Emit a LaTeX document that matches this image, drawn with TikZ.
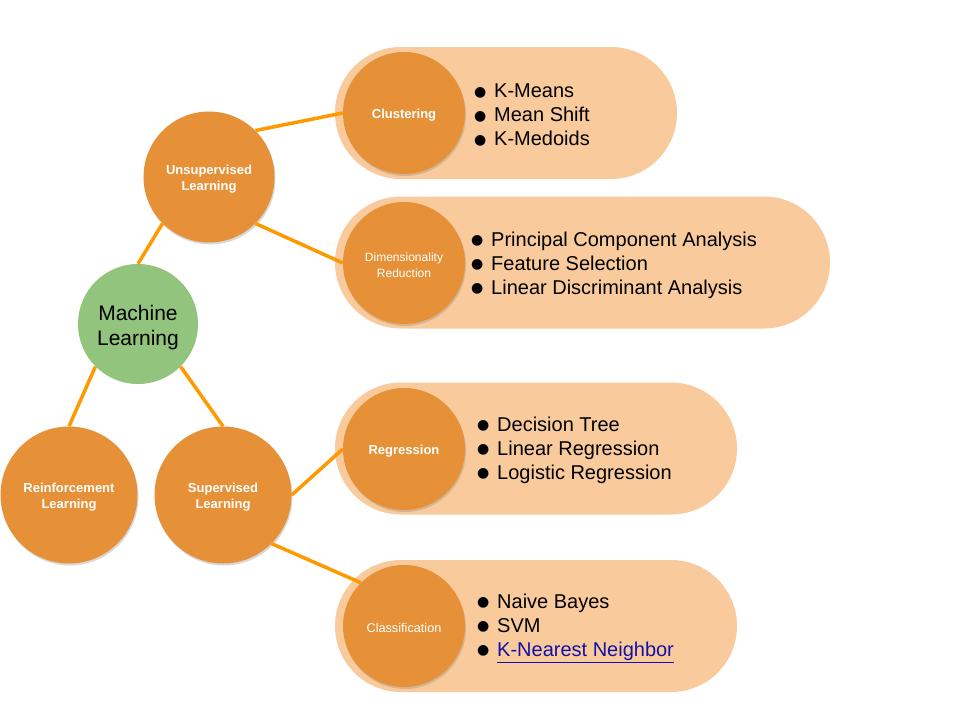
\documentclass[tikz,border=0pt]{standalone}
\usepackage{fontspec}
\setmainfont{Liberation Sans}
\newfontfamily\bulletfont{DejaVu Sans}
\usepackage{xcolor}
\definecolor{mlgreen}{RGB}{147,196,125}
\definecolor{topicorange}{RGB}{230,145,56}
\definecolor{pillorange}{RGB}{249,203,156}
\definecolor{linkorange}{RGB}{255,153,0}
\definecolor{hrefblue}{RGB}{17,17,170}
\usetikzlibrary{shapes.misc,shadows}
\newcommand{\itm}[1]{\makebox[20pt][l]{\raisebox{1.5pt}{\bulletfont\fontsize{14}{14}\selectfont ●}}#1}
\newcommand{\lift}{\rule{0pt}{1.1em}}

\begin{document}
\begin{tikzpicture}[x=1pt,y=-1pt,
  root/.style={circle,fill=mlgreen,minimum size=120pt,inner sep=0pt,align=center,
    font=\fontsize{21}{25}\selectfont},
  topic/.style={circle,fill=topicorange,inner sep=0pt,align=center,text=white,
    drop shadow={shadow xshift=1pt,shadow yshift=-2pt,opacity=.3}},
  big/.style={topic,minimum size=137pt,font=\bfseries\fontsize{13}{16}\selectfont},
  small/.style={topic,minimum size=122pt},
  pill/.style={rounded rectangle,fill=pillorange,minimum height=132pt,inner sep=0pt},
  items/.style={anchor=west,align=left,inner sep=0pt,font=\fontsize{20}{24}\selectfont},
  link/.style={draw=linkorange,line width=3.5pt}]

  \useasboundingbox[fill=white] (0,0) rectangle (960,720);

  % right hand pills with the lists
  \node[pill,minimum width=342pt] (cluspill) at (506,113) {};
  \node[pill,minimum width=495pt] (dimpill)  at (582.5,262.5) {};
  \node[pill,minimum width=402pt] (regpill)  at (536,448.5) {};
  \node[pill,minimum width=402pt] (clspill)  at (536,626) {};

  \node[items] (cluslist) at (474,115) {\itm{K-Means}\\\itm{Mean Shift}\\\itm{K-Medoids}};
  \node[items] (dimlist)  at (471,265) {\itm{Principal Component Analysis}\\\itm{Feature Selection}\\\itm{Linear Discriminant Analysis}};
  \node[items] (reglist)  at (477,450) {\itm{Decision Tree}\\\itm{Linear Regression}\\\itm{Logistic Regression}};
  \node[items] (clslist)  at (477,628) {\itm{Naive Bayes}\\\itm{SVM}\\\itm{{\color{hrefblue}\underline{K-Nearest Neighbor}}}};

  % tree
  \node[root] (ml) at (138,324) {\lift Machine\\Learning};
  \node[big,minimum size=131pt] (unsup) at (209,177) {\lift Unsupervised\\Learning};
  \node[big] (reinf) at (69,495) {\lift Reinforcement\\Learning};
  \node[big] (sup) at (223,495) {\lift Supervised\\Learning};

  \node[small,font=\bfseries\fontsize{13}{16}\selectfont] (clus) at (404,113) {\lift Clustering};
  \node[small,font=\fontsize{12}{16}\selectfont] (dimred) at (404,263) {\lift Dimensionality\\Reduction};
  \node[small,font=\bfseries\fontsize{13}{16}\selectfont] (regr) at (404,449) {\lift Regression};
  \node[small,font=\fontsize{12.7}{16}\selectfont] (classif) at (404,626) {\lift Classification};

  \draw[link] (ml.north) -- (unsup.225);
  \draw[link] (ml.225) -- (reinf.north);
  \draw[link] (ml.315) -- (sup.north);
  \draw[link] (unsup.45) -- (clus.west);
  \draw[link] (unsup.315) -- (dimred.west);
  \draw[link] (sup.east) -- (regr.west);
  \draw[link] (sup.315) -- (classif.135);
\end{tikzpicture}
\end{document}
